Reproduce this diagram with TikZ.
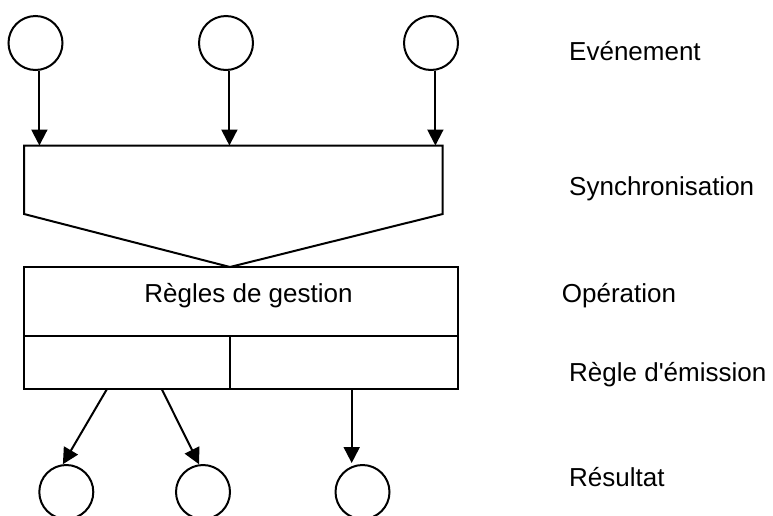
\documentclass[tikz,border=0pt]{standalone}
\usepackage{fontspec}
\setmainfont{Liberation Sans}[Ligatures=TeXOff]
\usetikzlibrary{arrows.meta}
\begin{document}
\begin{tikzpicture}[x=1pt,y=-1pt,
  ln/.style={line width=2pt, line join=miter},
  evt/.style={circle, draw, line width=2pt, minimum size=54pt, inner sep=0pt},
  arr/.style={line width=2pt, -{Triangle[length=16pt,width=16pt]}},
  lbl/.style={anchor=base west, inner sep=0pt, font=\fontsize{26}{31}\selectfont}]
\useasboundingbox (0,0) rectangle (773,515);
% events
\node[evt] (e1) at (35.5,43) {};
\node[evt] (e2) at (226,43) {};
\node[evt] (e3) at (431,43) {};
% synchronisation shape
\coordinate (sTL) at (24,145.5);
\coordinate (sTR) at (442.7,145.5);
\coordinate (sBR) at (442.7,214);
\coordinate (sP) at (230,267);
\coordinate (sBL) at (24,214);
\draw[ln] (sTL) -- (sTR) -- (sBR) -- (sP) -- (sBL) -- cycle;
% arrows into synchronisation
\draw[arr] (e1.-82) -- (e1.-82 |- sTL);
\draw[arr] (e2.-83.6) -- (e2.-83.6 |- sTL);
\draw[arr] (e3.-81.5) -- (e3.-81.5 |- sTL);
% operation box
\coordinate (oTL) at (24,267);
\coordinate (oBR) at (457.7,389);
\draw[ln] (oTL) rectangle (oBR);
\coordinate (dL) at (24,336);
\coordinate (dR) at (457.7,336);
\draw[ln] (dL) -- (dR);
\coordinate (mT) at (229.7,336);
\coordinate (mB) at (229.7,389);
\draw[ln] (mT) -- (mB);
\node[lbl, anchor=base] (rg) at (248.5,302.3) {Règles de gestion};
% results
\node[evt] (r1) at (66.3,492) {};
\node[evt] (r2) at (203,492) {};
\node[evt] (r3) at (362.5,492) {};
\coordinate (a1) at (107,389);
\coordinate (a2) at (161.7,389);
\coordinate (a3) at (351.7,389);
\draw[arr] (a1) -- (r1.97);
\draw[arr] (a2) -- (r2.98);
\coordinate (t3) at (351.7,463);
\draw[arr] (a3) -- (t3);
% labels
\node[lbl] (l1) at (569,60) {Evénement};
\node[lbl] (l2) at (569,195) {Synchronisation};
\node[lbl] (l3) at (561.7,302.7) {Opération};
\node[lbl] (l4) at (569,381.7) {Règle d'émission};
\node[lbl] (l5) at (569,486.7) {Résultat};
\end{tikzpicture}
\end{document}
